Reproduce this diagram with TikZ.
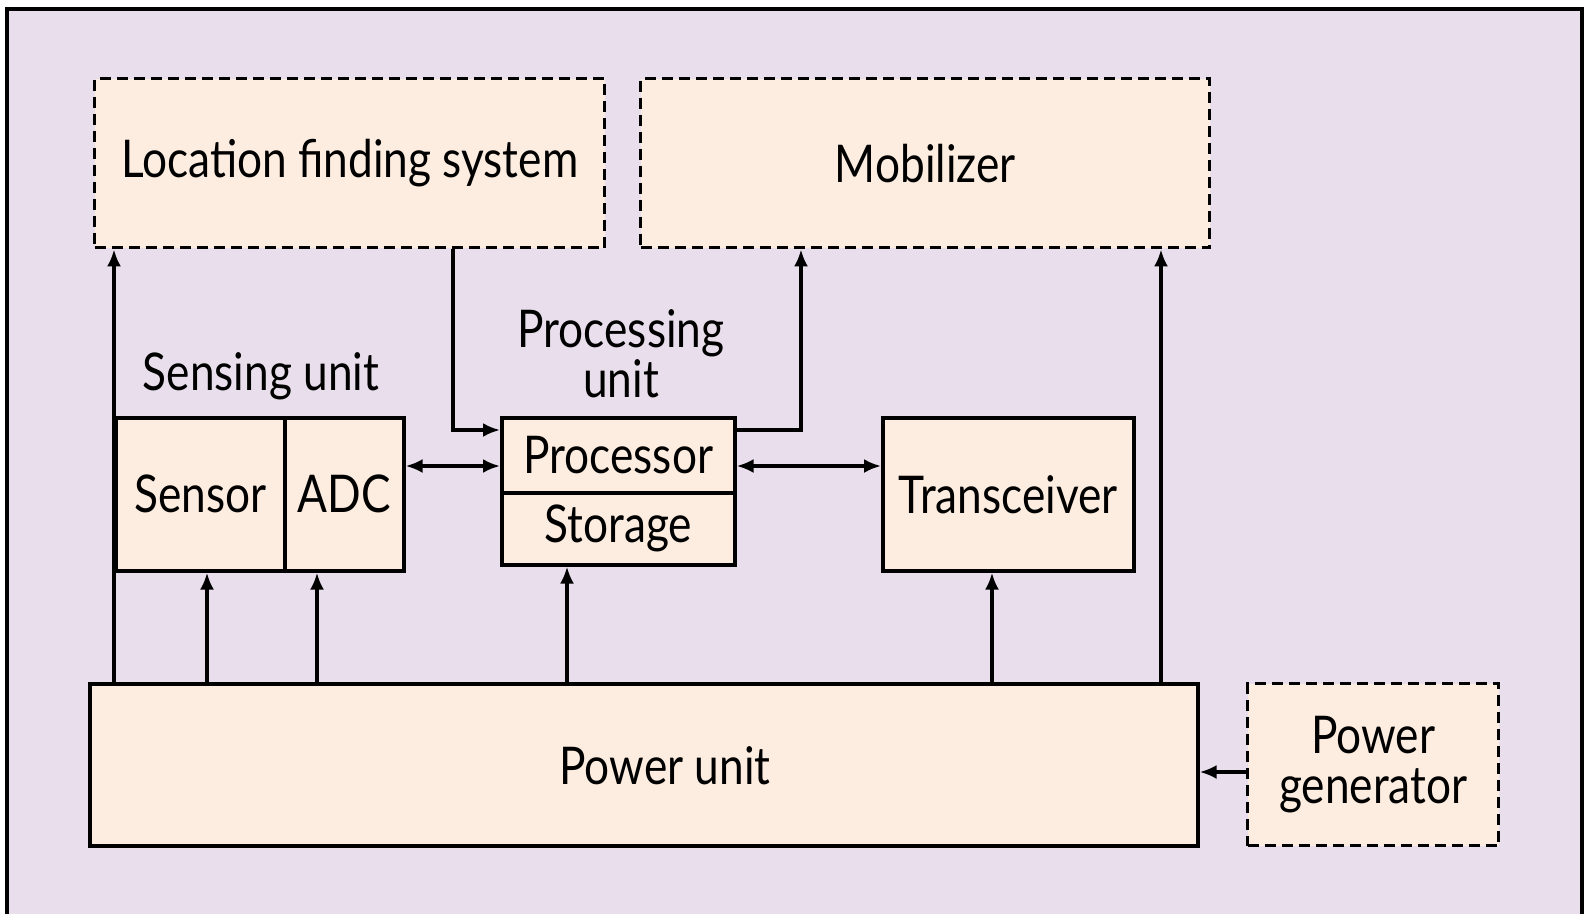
\documentclass[tikz,border=0pt]{standalone}
\usepackage{fontspec}
\setmainfont{Lato}[FakeStretch=0.85]
\usetikzlibrary{arrows.meta}
\definecolor{bg}{RGB}{233,223,236}
\definecolor{boxfill}{RGB}{253,237,224}
\begin{document}
\begin{tikzpicture}[x=1pt,y=-1pt,
  box/.style={draw=black, line width=3.6pt, fill=boxfill, inner sep=0pt, anchor=north west, font=\fontsize{52}{52}\selectfont},
  dbox/.style={box, line width=3.4pt, dash pattern=on 11pt off 6pt},
  tip/.tip={Latex[length=17pt,width=14pt]},
  arr/.style={line width=3.2pt, -tip},
  darr/.style={line width=3.2pt, tip-tip},
  lbl/.style={font=\fontsize{52}{50}\selectfont, align=center, inner sep=0pt}]

\useasboundingbox (0,0) rectangle (1585,914);
\fill[white] (0,0) rectangle (1585,914);
\fill[bg] (7,9) rectangle (1582,914);
\draw[line width=3.6pt] (7,914) -- (7,9) -- (1582,9) -- (1582,914);

\node[dbox, minimum width=510pt, minimum height=169pt] (lfs) at (93,77) {Location finding system};
\node[dbox, minimum width=569pt, minimum height=169pt] (mob) at (639,77) {Mobilizer};
\node[box, minimum width=169pt, minimum height=153pt] (sensor) at (114,416) {Sensor};
\node[box, minimum width=119pt, minimum height=153pt] (adc) at (283,416) {ADC};
\node[box, minimum width=233pt, minimum height=75pt] (proc) at (500,416) {Processor};
\node[box, minimum width=233pt, minimum height=72pt] (stor) at (500,491) {Storage};
\node[box, minimum width=251pt, minimum height=153pt] (trans) at (881,416) {Transceiver};
\node[box, minimum width=1108pt, minimum height=162pt] (pu) at (88,682) {};
\node[lbl] (putext) at (665,766) {Power unit};
\node[dbox, minimum width=251pt, minimum height=162pt, align=center, font=\fontsize{52}{50}\selectfont] (pg) at (1246,682) {Power\\generator};

\node[lbl] (sensing) at (261,376) {Sensing unit};
\node[lbl] (processing) at (621,354) {Processing\\unit};

\coordinate (xa) at (114,0);
\coordinate (xb) at (207,0);
\coordinate (xc) at (317,0);
\coordinate (xd) at (567,0);
\coordinate (xe) at (992,0);
\coordinate (xf) at (1161,0);
\coordinate (c1) at (453,430);
\coordinate (c2) at (801,430);
\coordinate (c3) at (0,466);
\coordinate (c4) at (0,772);

\draw[arr] (pu.north -| xa) -- (lfs.south -| xa);
\draw[arr] (pu.north -| xb) -- (sensor.south -| xb);
\draw[arr] (pu.north -| xc) -- (adc.south -| xc);
\draw[arr] (pu.north -| xd) -- (stor.south -| xd);
\draw[arr] (pu.north -| xe) -- (trans.south -| xe);
\draw[arr] (pu.north -| xf) -- (mob.south -| xf);
\draw[arr] (lfs.south -| c1) |- (proc.west |- c1);
\draw[arr] (proc.east |- c2) -| (mob.south -| c2);
\draw[darr] (adc.east |- c3) -- (proc.west |- c3);
\draw[darr] (proc.east |- c3) -- (trans.west |- c3);
\draw[arr] (pg.west |- c4) -- (pu.east |- c4);
\end{tikzpicture}
\end{document}
